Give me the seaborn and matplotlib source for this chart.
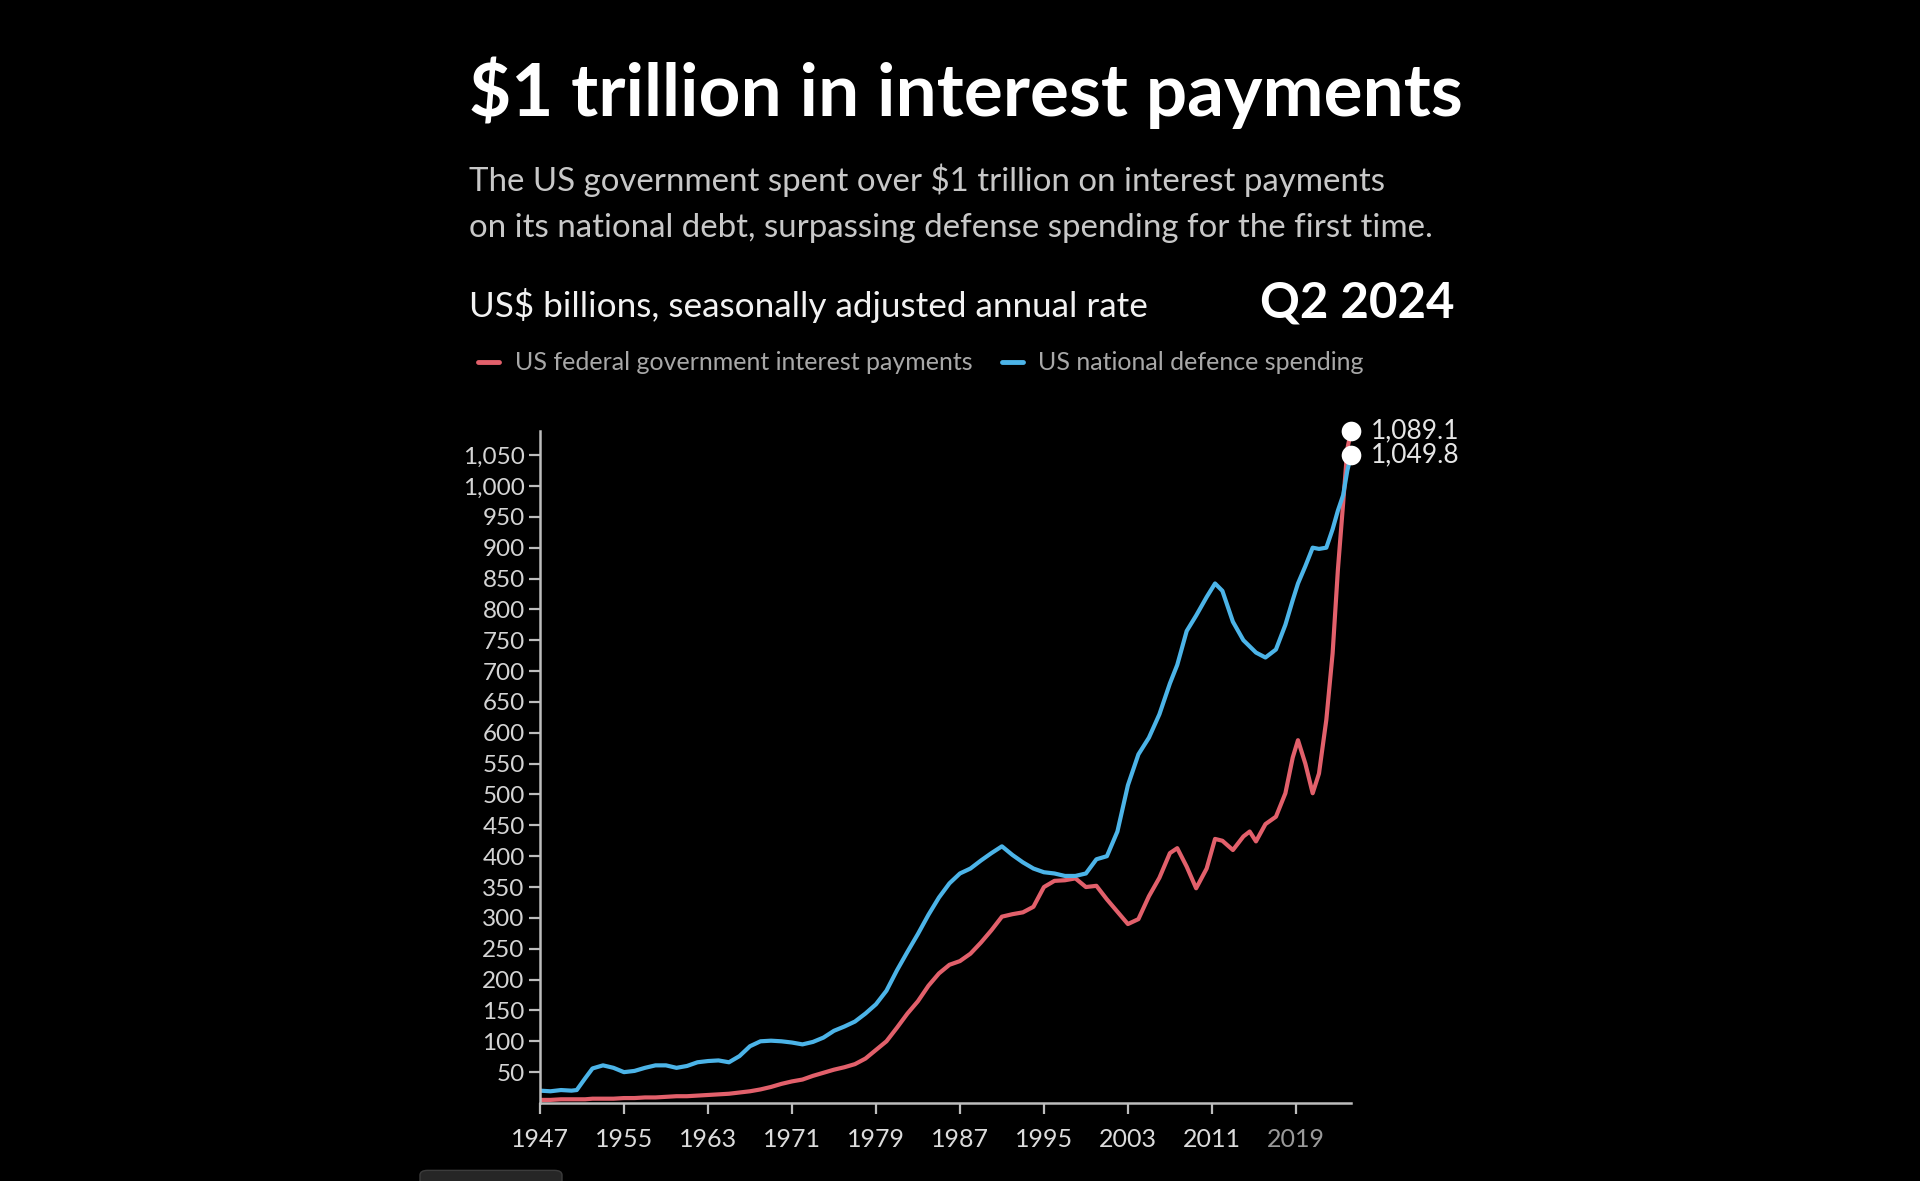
import pandas as pd
import matplotlib.pyplot as plt
import seaborn as sns
from matplotlib.patches import FancyBboxPatch

# values (US$ billions, SAAR)
years = [1947.0, 1948, 1949, 1950, 1950.5, 1951.3, 1952, 1953, 1954, 1955,
         1956, 1957, 1958, 1959, 1960, 1961, 1962, 1963, 1964, 1965,
         1966, 1967, 1968, 1969, 1970, 1971, 1972, 1973, 1974, 1975,
         1976, 1977, 1978, 1979, 1980, 1981, 1982, 1983, 1984, 1985,
         1986, 1987, 1988, 1989, 1990, 1991, 1992, 1993, 1994, 1995,
         1996, 1997, 1998, 1999, 2000, 2001, 2002, 2003, 2004, 2005,
         2006, 2007, 2007.7, 2008.6, 2009.5, 2010.5, 2011.3, 2012, 2013, 2014,
         2014.6, 2015.2, 2016.1, 2017.1, 2018, 2018.7, 2019.2, 2019.9, 2020.6, 2021.2,
         2021.9, 2022.5, 2023.0, 2023.5, 2023.9, 2024.25]
interest = [5, 5, 6, 6, 6, 6, 7, 7, 7, 8,
            8, 9, 9, 10, 11, 11, 12, 13, 14, 15,
            17, 19, 22, 26, 31, 35, 38, 44, 49, 54,
            58, 63, 72, 86, 100, 122, 145, 165, 190, 210,
            224, 230, 242, 260, 280, 302, 306, 309, 318, 350,
            360, 361, 364, 350, 352, 330, 310, 290, 298, 335,
            365, 405, 413, 383, 348, 380, 428, 425, 410, 432,
            440, 424, 452, 464, 502, 560, 588, 550, 502, 534,
            621, 729, 864, 972, 1060, 1089.1]
defense = [20, 19, 21, 20, 21, 40, 56, 61, 57, 50,
           52, 57, 61, 61, 57, 60, 66, 68, 69, 66,
           76, 92, 100, 101, 100, 98, 95, 99, 106, 117,
           124, 132, 145, 160, 182, 215, 245, 274, 305, 333,
           356, 372, 380, 393, 405, 416, 402, 390, 380, 374,
           372, 368, 368, 372, 395, 400, 440, 515, 565, 592,
           630, 680, 710, 765, 790, 820, 842, 830, 780, 750,
           740, 730, 722, 735, 775, 815, 842, 870, 900, 898,
           900, 930, 960, 985, 1025, 1049.8]

series_names = ['US federal government interest payments', 'US national defence spending']
colors = ['#e2606b', '#4cb4e8']
y_ticks = list(range(50, 1051, 50))
x_ticks = [1947, 1955, 1963, 1971, 1979, 1987, 1995, 2003, 2011, 2019]

df = pd.DataFrame({
    'year': years + years,
    'value': interest + defense,
    'series': [series_names[0]] * len(years) + [series_names[1]] * len(years),
})

sns.set_theme(style='dark', rc={'axes.facecolor': 'black', 'figure.facecolor': 'black'})
plt.rcParams['font.family'] = ['Lato', 'DejaVu Sans']

W, H = 1920, 1181
fig = plt.figure(figsize=(19.2, 11.81), dpi=100, facecolor='black')
ax = fig.add_axes([540 / W, 1 - 1103 / H, (1351 - 540) / W, (1103 - 431) / H])

sns.lineplot(data=df, x='year', y='value', hue='series', hue_order=series_names,
             palette=colors, linewidth=3.0, legend=False, ax=ax)

ax.set_xlim(1947, 2024.25)
ax.set_ylim(0, 1089.1)
ax.set_xlabel('')
ax.set_ylabel('')
ax.set_yticks(y_ticks)
ax.set_yticklabels([f'{v:,}' for v in y_ticks])
ax.set_xticks(x_ticks)
ax.set_xticklabels([str(v) for v in x_ticks])
for lbl in ax.get_xticklabels():
    lbl.set_color('#9a9a9a' if lbl.get_text() == '2019' else '#dcdcdc')
ax.grid(False)
for s in ['top', 'right']:
    ax.spines[s].set_visible(False)
for s in ['left', 'bottom']:
    ax.spines[s].set_color('#bdbdbd')
    ax.spines[s].set_linewidth(1.8)
ax.tick_params(axis='both', direction='out', length=8, width=1.6, color='#bdbdbd',
               pad=3, bottom=True, left=True)
ax.tick_params(axis='y', labelcolor='#d4d4d4', labelsize=17.5)
ax.tick_params(axis='x', pad=10, labelsize=18)

# end point markers and labels
ends = [interest[-1], defense[-1]]
ax.scatter([years[-1]] * 2, ends, s=200, color='white', zorder=5, clip_on=False, linewidths=0)
for v in ends:
    ax.annotate(f'{v:,.1f}', (years[-1], v), xytext=(14, 0), textcoords='offset points',
                va='center', ha='left', fontsize=19, color='#e6e6e6', annotation_clip=False)

# header texts
fig.text(469 / W, 1 - 116 / H, '\\$1 trillion in interest payments', fontsize=52.5,
         fontweight='bold', color='white', va='baseline', ha='left')
fig.text(469 / W, 1 - 191 / H, 'The US government spent over \\$1 trillion on interest payments',
         fontsize=23.8, color='#c8c8c8', va='baseline', ha='left')
fig.text(469 / W, 1 - 237 / H, 'on its national debt, surpassing defense spending for the first time.',
         fontsize=23.8, color='#c8c8c8', va='baseline', ha='left')
fig.text(469 / W, 1 - 317 / H, 'US\\$ billions, seasonally adjusted annual rate',
         fontsize=25.3, color='#f2f2f2', va='baseline', ha='left')
fig.text(1455 / W, 1 - 318 / H, 'Q2 2024', fontsize=35.5, fontweight='bold',
         color='white', va='baseline', ha='right')

# legend
legend_items = [(478, 515), (1002, 1038)]
for (x0, xt), name, c in zip(legend_items, series_names, colors):
    fig.add_artist(plt.Line2D([x0 / W, (x0 + 21) / W], [1 - 362 / H] * 2, color=c,
                              linewidth=3.5, transform=fig.transFigure))
    fig.text(xt / W, 1 - 370 / H, name, fontsize=18, color='#a8a8a8',
             va='baseline', ha='left')

# small player bar at the bottom edge
fig.add_artist(FancyBboxPatch((420 / W, -0.01), 142 / W, 0.019,
                              boxstyle='round,pad=0,rounding_size=0.004',
                              transform=fig.transFigure, facecolor='#262626',
                              edgecolor='#3c3c3c', linewidth=1))

fig.savefig('out.png', dpi=100, facecolor='black')
